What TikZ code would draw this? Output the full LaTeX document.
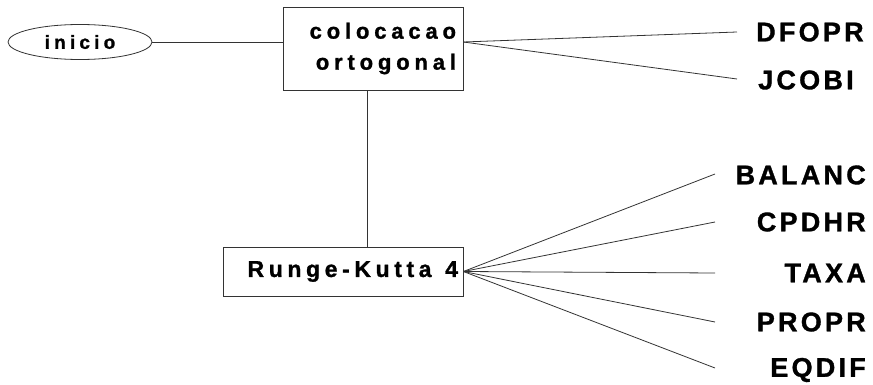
\documentclass[tikz,border=0pt]{standalone}
\usepackage{fontspec}
\usetikzlibrary{shapes.geometric}
\newfontfamily\labf[LetterSpace=12,FakeBold=1.2]{Liberation Sans Bold}
\newfontfamily\boxf[LetterSpace=22,FakeBold=1.2]{Liberation Sans Bold}
\newfontfamily\rkf[LetterSpace=20,FakeBold=1.2]{Liberation Sans Bold}
\newfontfamily\inif[LetterSpace=22,FakeBold=1.2]{Liberation Sans Bold}
\tikzset{
  conn/.style={draw=black!80, line width=0.8pt},
  lab/.style={inner sep=0pt, font=\labf\fontsize{27}{30}\selectfont, text=black},
  boxn/.style={draw=black!80, line width=0.8pt, rectangle, inner sep=0pt},
}
\begin{document}
\begin{tikzpicture}[x=1pt,y=-1pt]
\useasboundingbox (0,0) rectangle (873,385);
% nodes
\node[ellipse, draw=black!80, line width=0.8pt, minimum width=144pt, minimum height=35pt, inner sep=0pt,
      font=\inif\fontsize{19}{22}\selectfont] (ini) at (80,42) {inicio};
\node[boxn, minimum width=180pt, minimum height=83pt, text width=166pt, align=right, inner xsep=7pt,
      font=\boxf\fontsize{22}{31}\selectfont] (col) at (373,48.5) {colocacao\\ortogonal};
\node[boxn, minimum width=240pt, minimum height=49pt, text width=230pt, align=right, inner xsep=5pt,
      font=\rkf\fontsize{23}{26}\selectfont] (rk) at (343,271.5) {Runge-Kutta\hspace{6pt} 4};
% right labels
\node[lab, anchor=west] (dfopr) at (756,32) {DFOPR};
\node[lab, anchor=west] (jcobi) at (758,80) {JCOBI};
\node[lab, anchor=east] (balanc) at (866,175) {BALANC};
\node[lab, anchor=east] (cpdhr) at (866,222) {CPDHR};
\node[lab, anchor=east] (taxa) at (866,273) {TAXA};
\node[lab, anchor=east] (propr) at (866,322) {PROPR};
\node[lab, anchor=east] (eqdif) at (866,370) {EQDIF};
% connector ends
\coordinate (colR) at (col.east |- ini.east);
\coordinate (eDF) at (737,32);
\coordinate (eJC) at (737,79);
\coordinate (eBA) at (715,174);
\coordinate (eCP) at (715,222);
\coordinate (eTA) at (715,273);
\coordinate (ePR) at (715,322);
\coordinate (eEQ) at (715,368);
% connectors
\draw[conn] (ini.east) -- (ini.east -| col.west);
\draw[conn] (colR) -- (eDF);
\draw[conn] (colR) -- (eJC);
\draw[conn] ([xshift=-6pt]col.south) -- ([xshift=-6pt]col.south |- rk.north);
\foreach \e in {eBA,eCP,eTA,ePR,eEQ}{\draw[conn] (rk.east) -- (\e);}
\end{tikzpicture}
\end{document}
